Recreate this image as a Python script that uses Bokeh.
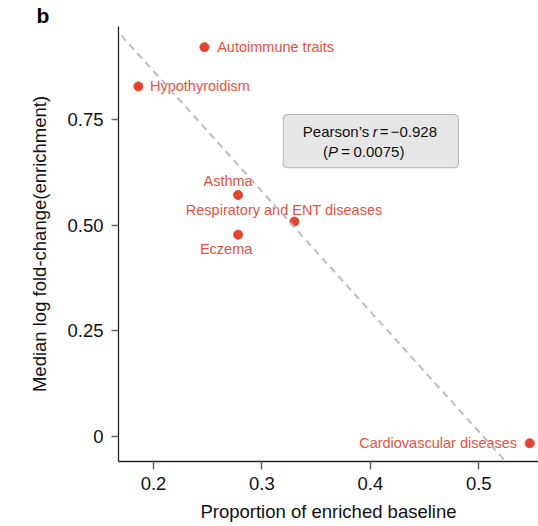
from bokeh.plotting import figure
from bokeh.models import FixedTicker, Slope, BoxAnnotation, Label, Range1d
from bokeh.core.properties import value
from bokeh.embed import file_html
from bokeh.resources import INLINE

# ---------------- data ----------------
traits = ["Autoimmune traits", "Hypothyroidism", "Asthma",
          "Respiratory and ENT diseases", "Eczema", "Cardiovascular diseases"]
prop_enriched = [0.247, 0.186, 0.278, 0.330, 0.278, 0.547]
median_logfc = [0.922, 0.829, 0.572, 0.509, 0.478, -0.016]
fit_slope = -2.845
fit_intercept = 1.434
x_ticks = [0.2, 0.3, 0.4, 0.5]
x_tick_labels = ["0.2", "0.3", "0.4", "0.5"]
y_ticks = [0, 0.25, 0.5, 0.75]
y_tick_labels = ["0", "0.25", "0.50", "0.75"]
pearson_r = "\u22120.928"
p_value = "0.0075"

# ---------------- layout / style ----------------
FONT = "Liberation Sans"
PT_COLOR = "#e5432f"
LB_COLOR = "#e8503c"
FW, FH = 420, 435
ML, MT = 118, 26
x_start, x_end = 0.1677, 0.5551
y_start = -0.0592
y_end = y_start + FH / 422.3

def sx(px):
    return x_start + (px - ML) / FW * (x_end - x_start)

def sy(py):
    return y_end - (py - MT) / FH * (y_end - y_start)

p = figure(frame_width=FW, frame_height=FH, output_backend="svg", toolbar_location=None,
           x_range=Range1d(x_start, x_end), y_range=Range1d(y_start, y_end),
           min_border_left=ML, min_border_right=0, min_border_top=MT, min_border_bottom=65)
p.outline_line_color = None
p.grid.visible = False
p.background_fill_color = "white"
p.border_fill_color = "white"

# panel letter as title
p.title.text = "b"
p.title.align = "left"
p.title.offset = -82
p.title.standoff = 0
p.title.text_font = FONT
p.title.text_font_size = "21px"
p.title.text_font_style = "bold"
p.title.text_color = "#000000"

for ax in (p.xaxis[0], p.yaxis[0]):
    ax.axis_line_color = "#222222"
    ax.axis_line_width = 1.3
    ax.major_tick_line_color = "#666666"
    ax.major_tick_line_width = 1.5
    ax.major_tick_in = 0
    ax.minor_tick_line_color = None
    ax.major_label_text_font = FONT
    ax.major_label_text_font_size = "18.5px"
    ax.major_label_text_color = "#111111"
    ax.axis_label_text_font = FONT
    ax.axis_label_text_font_size = "18.5px"
    ax.axis_label_text_font_style = "normal"
    ax.axis_label_text_color = "#111111"

p.xaxis.ticker = FixedTicker(ticks=x_ticks)
p.xaxis.major_label_overrides = dict(zip(x_ticks, x_tick_labels))
p.xaxis.major_tick_out = 8
p.xaxis.major_label_standoff = 7
p.xaxis.axis_label = "Proportion of enriched baseline"
p.xaxis.axis_label_standoff = 8

p.yaxis.ticker = FixedTicker(ticks=y_ticks)
p.yaxis.major_label_overrides = dict(zip(y_ticks, y_tick_labels))
p.yaxis.major_tick_out = 7
p.yaxis.major_label_standoff = 8
p.yaxis.axis_label = "Median log fold-change(enrichment)"
p.yaxis.axis_label_standoff = 14

# regression line
p.add_layout(Slope(gradient=fit_slope, y_intercept=fit_intercept,
                   line_color="#bdbdbd", line_width=2, line_dash="7 5"))

# annotation box
p.add_layout(BoxAnnotation(left=sx(282.7), right=sx(458), top=sy(114), bottom=sy(167.3),
                           fill_color="#e6e6e6", fill_alpha=1, line_color="#333333",
                           line_width=1, border_radius=4))

segments = [
    ("Pearson\u2019s", 302.3, 131.3, "normal"),
    ("r", 372.3, 131.3, "italic"),
    ("=", 379.3, 131.3, "normal"),
    (pearson_r, 390.2, 131.3, "normal"),
    ("(", 322.5, 150.7, "normal"),
    ("P", 327.5, 150.7, "italic"),
    ("=", 340.8, 150.7, "normal"),
    (p_value + ")", 353.0, 150.7, "normal"),
]
for txt, px, py, style in segments:
    p.add_layout(Label(x=sx(px), y=sy(py), text=txt, text_font=FONT, text_font_size="15px",
                       text_font_style=style, text_color="#111111",
                       text_align="left", text_baseline="middle"))

# points
p.scatter(prop_enriched, median_logfc, size=9, fill_color=PT_COLOR, line_color=PT_COLOR)

# point labels (offsets in screen px; positive y_offset = down)
label_layout = [
    ("left", 12.7, 0),
    ("left", 11.6, 0),
    ("center", -10, -14.3),
    ("center", -10.3, -11.7),
    ("center", -12, 14.3),
    ("right", -12.6, 0),
]
for i, name in enumerate(traits):
    align, dx, dy = label_layout[i]
    p.text(x=[prop_enriched[i]], y=[median_logfc[i]], text=[name],
           x_offset=dx, y_offset=dy, text_align=align, text_baseline="middle",
           text_font=value(FONT), text_font_size="14.5px", text_color=LB_COLOR)

open("out.html", "w").write(file_html(p, INLINE))
